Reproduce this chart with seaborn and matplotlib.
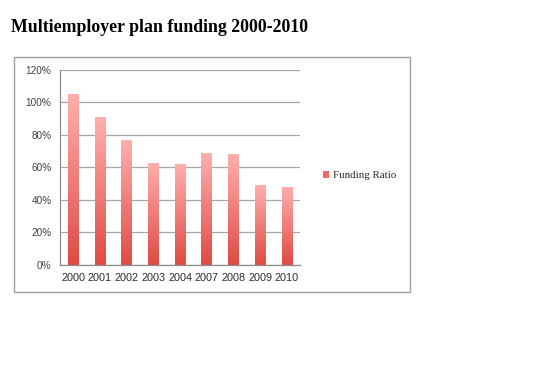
import matplotlib
matplotlib.use("Agg")

import matplotlib.pyplot as plt
import numpy as np
import pandas as pd
import seaborn as sns
from matplotlib.colors import LinearSegmentedColormap
from matplotlib.patches import Rectangle
from matplotlib.ticker import FuncFormatter, MultipleLocator

# ---------------------------------------------------------------------------
# DATA
# ---------------------------------------------------------------------------
years = ["2000", "2001", "2002", "2003", "2004", "2007", "2008", "2009", "2010"]
funding_ratio = [105, 91, 77, 63, 62, 69, 68, 49, 48]
series_name = "Funding Ratio"

df = pd.DataFrame({"year": years, "ratio": funding_ratio})

sns.set_style("white")
plt.rcParams["font.family"] = ["Liberation Sans", "DejaVu Sans"]

fig = plt.figure(figsize=(5.55, 3.68), dpi=100)
ax = fig.add_axes([0.108, 0.280, 0.433, 0.530])

sns.barplot(data=df, x="year", y="ratio", ax=ax, width=0.4,
            color="#E0504A", saturation=1, edgecolor="none")

# per-bar vertical gradient (light pink at top -> red at bottom)
grad_cmap = LinearSegmentedColormap.from_list("bar", ["#E04A44", "#FFB0AE"])
grad = np.linspace(0, 1, 256).reshape(-1, 1)
for patch in ax.patches:
    x0, y0 = patch.get_x(), patch.get_y()
    w, h = patch.get_width(), patch.get_height()
    im = ax.imshow(grad, cmap=grad_cmap, origin="lower", aspect="auto",
                   extent=[x0, x0 + w, y0, y0 + h], zorder=patch.get_zorder())
    im.set_clip_path(patch)
    patch.set_facecolor("none")

ax.set_xlim(-0.5, len(years) - 0.5)
ax.set_ylim(0, 120)
ax.yaxis.set_major_locator(MultipleLocator(20))
ax.yaxis.set_major_formatter(FuncFormatter(lambda v, _: f"{v:.0f}%"))
ax.set_xlabel("")
ax.set_ylabel("")

ax.grid(axis="y", color="#A6A6A6", linewidth=0.9)
ax.set_axisbelow(True)
for side in ["top", "right"]:
    ax.spines[side].set_visible(False)
for side in ["left", "bottom"]:
    ax.spines[side].set_color("#8C8C8C")
    ax.spines[side].set_linewidth(0.9)

# x ticks sit between categories, labels under the bars
ax.set_xticks(np.arange(len(years)))
ax.set_xticklabels(years)
ax.set_xticks(np.arange(-0.5, len(years)), minor=True)
ax.tick_params(axis="x", which="major", length=0, pad=6, labelsize=7.8,
               labelcolor="#2E2E2E")
ax.tick_params(axis="x", which="minor", length=3, color="#8C8C8C", width=0.9)
ax.tick_params(axis="y", length=3, color="#8C8C8C", width=0.9, pad=3,
               labelsize=7.2, labelcolor="#404040")

# legend
handle = Rectangle((0, 0), 1, 1, facecolor="#EE6A66", edgecolor="none")
fig.legend([handle], [series_name], loc="center left",
           bbox_to_anchor=(0.565, 0.523), frameon=False,
           handlelength=0.55, handleheight=0.55, handletextpad=0.3,
           prop={"family": "Liberation Serif", "size": 7.8})

# chart frame
fig.patches.append(Rectangle((14 / 555, 1 - 292 / 368), (410 - 14) / 555,
                             (292 - 57) / 368, transform=fig.transFigure,
                             fill=False, edgecolor="#A0A0A0", linewidth=1))

fig.text(11 / 555, 1 - 28 / 368, "Multiemployer plan funding 2000-2010",
         ha="left", va="center", fontsize=12.8, fontweight="bold",
         family="Liberation Serif", color="black")

fig.savefig("out.png", dpi=100)
